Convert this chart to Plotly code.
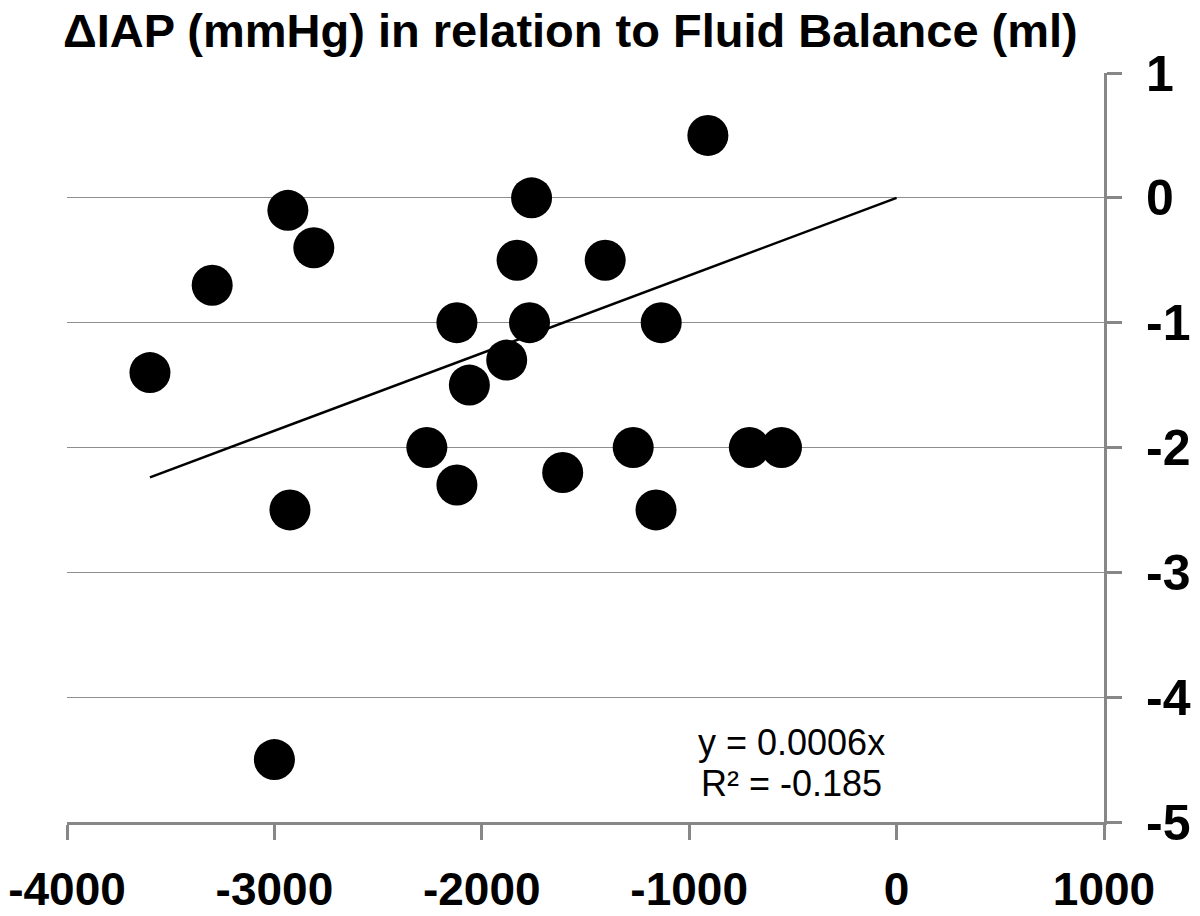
import plotly.graph_objects as go

# fluid balance (ml) vs change in IAP (mmHg)
fluid_balance = [-3600, -3300, -2935, -2810, -2925, -3000, -2265, -2120, -2120, -2060,
                 -1880, -1830, -1760, -1770, -1610, -1405, -1270, -1135, -1160, -910,
                 -710, -555]
delta_iap = [-1.4, -0.7, -0.1, -0.4, -2.5, -4.5, -2.0, -1.0, -2.3, -1.5,
             -1.3, -0.5, 0.0, -1.0, -2.2, -0.5, -2.0, -1.0, -2.5, 0.5,
             -2.0, -2.0]

trend_x = [-3600, 0]
trend_slope = 0.000622  # shown as 0.0006 in the label
trend_y = [trend_slope * v for v in trend_x]

x_ticks = [-4000, -3000, -2000, -1000, 0, 1000]
y_ticks = [1, 0, -1, -2, -3, -4, -5]

BOLD = "Liberation Sans, Arial"
AXIS_GREY = "#878787"

fig = go.Figure()

fig.add_trace(go.Scatter(
    x=trend_x, y=trend_y,
    mode="lines",
    line=dict(color="black", width=2.5),
    showlegend=False,
))

fig.add_trace(go.Scatter(
    x=fluid_balance, y=delta_iap,
    mode="markers",
    marker=dict(color="black", size=41, line=dict(width=0)),
    showlegend=False,
))

# trendline label
for txt, yv in [("y = 0.0006x", -4.36), ("R² = -0.185", -4.69)]:
    fig.add_annotation(
        x=-505, y=yv, xref="x", yref="y",
        text=txt,
        showarrow=False,
        font=dict(family="Liberation Sans, Arial", size=36, color="black"),
    )

# page body adds an 8px margin, so the figure is sized to fit the window
fig.update_layout(
    width=1192, height=908,
    paper_bgcolor="white", plot_bgcolor="white",
    margin=dict(l=59, r=96, t=65, b=94),
    title=dict(
        text="<b>ΔIAP (mmHg) in relation to Fluid Balance (ml)</b>",
        font=dict(family=BOLD, size=47, color="black"),
        x=55 / 1192, xanchor="left", xref="container",
        y=0.993, yanchor="top", yref="container",
        pad=dict(t=0, l=0),
    ),
    xaxis=dict(
        range=[-4000, 1000],
        tickvals=x_ticks,
        ticktext=[f"<b>{v}</b>" for v in x_ticks],
        tickfont=dict(family=BOLD, size=46, color="black"),
        showgrid=False, zeroline=False,
        showline=True, linecolor=AXIS_GREY, linewidth=3,
        ticks="outside", ticklen=15, tickwidth=3, tickcolor=AXIS_GREY,
        ticklabelstandoff=10,
        ticklabeloverflow="allow",
        automargin=False,
    ),
    yaxis=dict(
        range=[-5, 1],
        side="right",
        tickvals=y_ticks,
        ticktext=[f"<b>{v}</b>" for v in y_ticks],
        tickfont=dict(family=BOLD, size=50, color="black"),
        showgrid=True, gridcolor="#8e8e8e", gridwidth=1,
        zeroline=False,
        showline=True, linecolor=AXIS_GREY, linewidth=3,
        ticks="outside", ticklen=15, tickwidth=3, tickcolor=AXIS_GREY,
        ticklabelstandoff=14,
        ticklabeloverflow="allow",
        automargin=False,
    ),
)

fig.write_html("out.html")
